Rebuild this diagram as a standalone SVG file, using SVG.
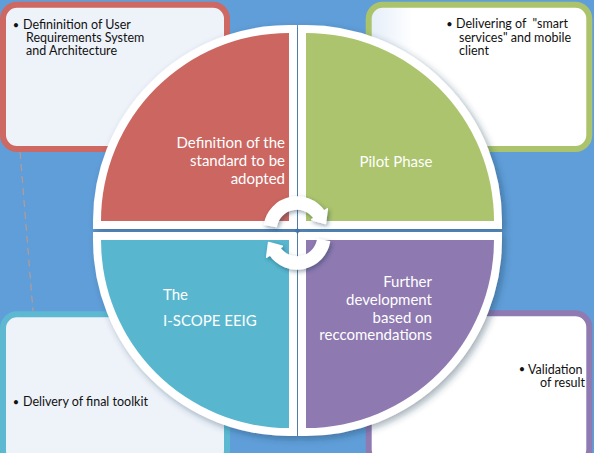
<svg xmlns="http://www.w3.org/2000/svg" width="594" height="453" viewBox="0 0 594 453">
<defs>
<style>
.box{stroke-width:6;}
.bt{font-family:Lato,"Liberation Sans",sans-serif;font-size:12.5px;fill:#111;}
.bu{font-family:Lato,"Liberation Sans",sans-serif;font-size:11px;fill:#111;text-anchor:middle;}
.st{font-family:Lato,"Liberation Sans",sans-serif;font-size:15px;fill:#fff;}
.sec{stroke:#fff;stroke-width:16;paint-order:stroke;stroke-linejoin:miter;}
.arr{fill:#fff;stroke:#fff;stroke-width:1.5;stroke-linejoin:round;}
</style>
<linearGradient id="gTR" x1="0" y1="0" x2="1" y2="0">
<stop offset="0" stop-color="#e4edf9"/>
<stop offset="0.2" stop-color="#ffffff"/>
<stop offset="1" stop-color="#ffffff"/>
</linearGradient>
<filter id="sh" x="-10%" y="-10%" width="125%" height="125%">
<feDropShadow dx="3" dy="3" stdDeviation="3.5" flood-color="#1f3550" flood-opacity="0.4"/>
</filter>
<filter id="sh2" x="-30%" y="-30%" width="160%" height="160%">
<feDropShadow dx="1.5" dy="2" stdDeviation="2" flood-color="#1f3550" flood-opacity="0.45"/>
</filter>
</defs>
<rect x="0" y="0" width="594" height="453" fill="#609ed9"/>

<g id="box-top-left">
<rect class="box" x="3" y="4.7" width="224" height="144.3" rx="14" fill="#eef3fa" stroke="#cd6862"/>
<text class="bu" x="16" y="28.5">•</text>
<text class="bt"><tspan x="23" y="29">Defininition of User</tspan><tspan x="26" y="42">Requirements System</tspan><tspan x="26" y="55">and Architecture</tspan></text>
</g>

<g id="box-top-right">
<rect class="box" x="368.7" y="4.7" width="220.6" height="144.3" rx="14" fill="url(#gTR)" stroke="#abc46b"/>
<text class="bu" x="449.5" y="27.5">•</text>
<text class="bt" xml:space="preserve"><tspan x="456" y="28">Delivering of  "smart</tspan><tspan x="459" y="42">services" and mobile</tspan><tspan x="459" y="55">client</tspan></text>
</g>

<g id="box-bottom-left">
<rect class="box" x="3" y="314.3" width="224" height="150" rx="14" fill="#eef3fa" stroke="#5cb9d1"/>
<text class="bu" x="16" y="405.5">•</text>
<text class="bt" x="23" y="406">Delivery of final toolkit</text>
</g>

<g id="box-bottom-right">
<rect class="box" x="368.7" y="313.3" width="220.6" height="150" rx="14" fill="#ffffff" stroke="#8f7ab2"/>
<text class="bu" x="522" y="373">•</text>
<text class="bt"><tspan x="528" y="373.5">Validation</tspan><tspan x="585" y="386.5" text-anchor="end">of result</tspan></text>
</g>

<g id="connectors">
<line x1="20" y1="152" x2="33" y2="311" stroke="#c99a84" stroke-width="1" stroke-dasharray="7 5"/>
</g>

<g id="cycle" filter="url(#sh)">
<g id="q-definition">
<path class="sec" d="M289 221 L101 221 A188 188 0 0 1 289 33 Z" fill="#cb6660"/>
</g>
<g id="q-pilot">
<path class="sec" d="M306 221 L306 33 A188 188 0 0 1 494 221 Z" fill="#acc46d"/>
</g>
<g id="q-eeig">
<path class="sec" d="M289 240 L289 428 A188 188 0 0 1 101 240 Z" fill="#58b7cf"/>
</g>
<g id="q-further">
<path class="sec" d="M306 240 L494 240 A188 188 0 0 1 306 428 Z" fill="#8e79b1"/>
</g>
</g>
<g id="crosshair" stroke="#5a7eab" stroke-width="0.8" opacity="0.6">
<line x1="297.5" y1="27" x2="297.5" y2="436"/>
<line x1="93" y1="231" x2="503" y2="231"/>
<path d="M297.5 228 L300.5 231 L297.5 234 L294.5 231 Z" fill="#3f6796" stroke="none"/>
</g>

<g id="arrows" filter="url(#sh2)">
<path class="arr" d="M264.5 224.3 A33 33 0 0 1 324 211.1 L327.3 208.8 L325.4 223.5 L311.7 219.7 L314.2 218 A21 21 0 0 0 276.3 226.4 Z"/>
<path class="arr" transform="rotate(180 297 233)" d="M264.5 224.3 A33 33 0 0 1 324 211.1 L327.3 208.8 L325.4 223.5 L311.7 219.7 L314.2 218 A21 21 0 0 0 276.3 226.4 Z"/>
</g>

<g id="labels">
<text class="st" text-anchor="end"><tspan x="285" y="148">Definition of the</tspan><tspan x="285" y="166">standard to be</tspan><tspan x="285" y="184">adopted</tspan></text>
<text class="st" x="396" y="167" text-anchor="middle">Pilot Phase</text>
<text class="st"><tspan x="163" y="300">The</tspan><tspan x="163" y="326">I-SCOPE EEIG</tspan></text>
<text class="st" text-anchor="end"><tspan x="432" y="287">Further</tspan><tspan x="432" y="305">development</tspan><tspan x="432" y="323">based on</tspan><tspan x="432" y="340">reccomendations</tspan></text>
</g>
</svg>
